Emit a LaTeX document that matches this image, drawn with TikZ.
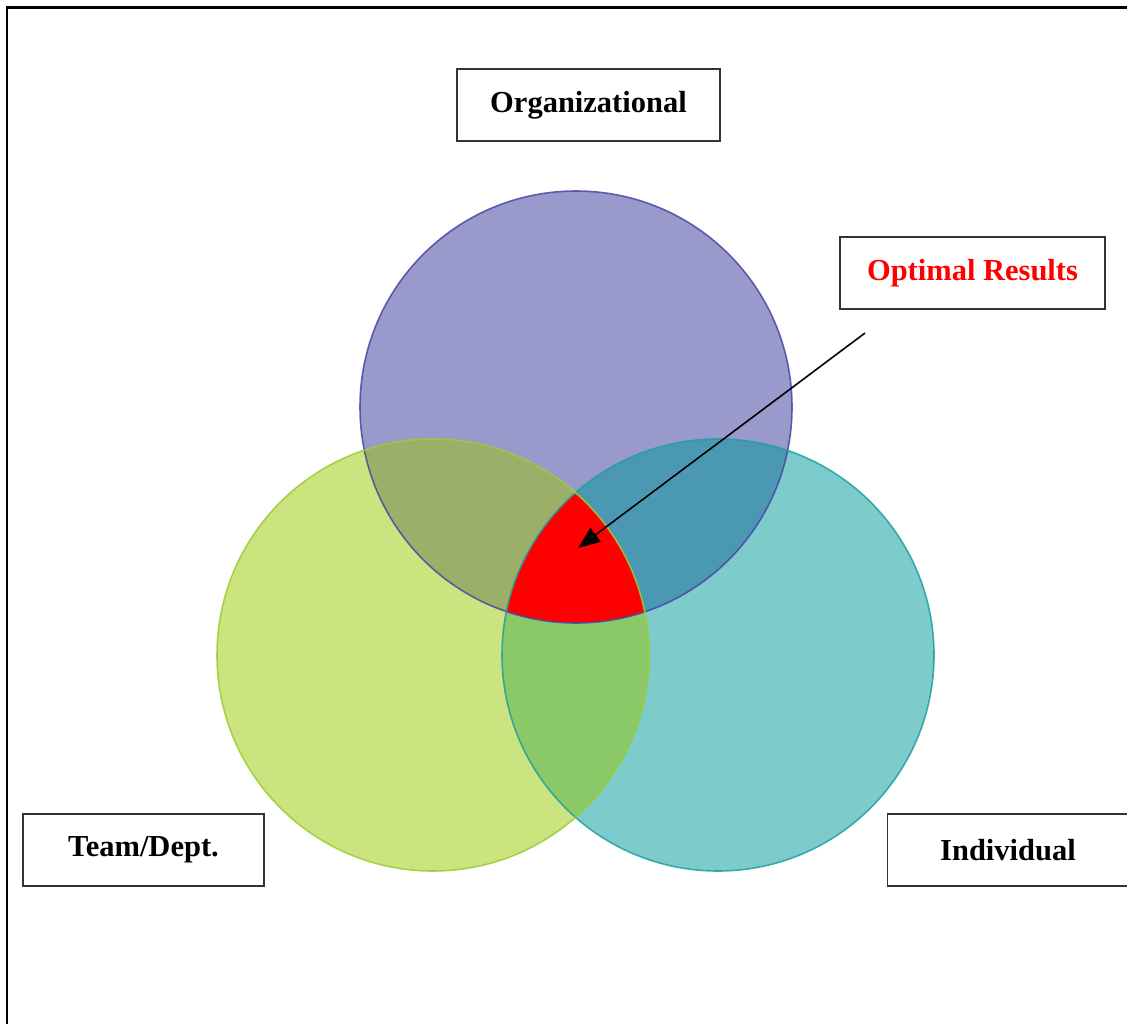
\documentclass[tikz,border=0pt]{standalone}
\usepackage{fontspec}
\setmainfont{Liberation Serif}
\usetikzlibrary{arrows.meta}
\definecolor{orgfill}{HTML}{9999CC}
\definecolor{teamfill}{HTML}{CCE480}
\definecolor{indfill}{HTML}{7ECBCC}
\definecolor{ogfill}{HTML}{9BAF69}
\definecolor{oifill}{HTML}{4B98B2}
\definecolor{tifill}{HTML}{8AC868}
\definecolor{orgline}{HTML}{4848A4}
\definecolor{teamline}{HTML}{9ACD32}
\definecolor{indline}{HTML}{20A0A0}
\definecolor{boxline}{HTML}{333333}
\begin{document}
\begin{tikzpicture}[x=1pt,y=-1pt,
  lbl/.style={draw=boxline, line width=1.6pt, fill=white, inner sep=0pt,
    minimum height=72pt, font=\fontsize{30.5}{36}\selectfont\bfseries},
  ring/.style={line width=1.6pt, opacity=0.85}]
\clip (0,0) rectangle (1127,1023);
\fill[white] (0,0) rectangle (1127,1023);
% outer frame
\draw[line width=2.8pt] (7,1040) -- (7,7.7) -- (1140,7.7);
% circle centres
\coordinate (O) at (576,407);
\coordinate (T) at (433,655);
\coordinate (I) at (718,655);
% single regions
\fill[orgfill] (O) circle [radius=216pt];
\fill[teamfill] (T) circle [radius=216pt];
\fill[indfill] (I) circle [radius=216pt];
% pairwise overlaps
\begin{scope}
  \clip (O) circle [radius=216pt];
  \fill[ogfill] (T) circle [radius=216pt];
  \fill[oifill] (I) circle [radius=216pt];
\end{scope}
\begin{scope}
  \clip (T) circle [radius=216pt];
  \fill[tifill] (I) circle [radius=216pt];
  \clip (I) circle [radius=216pt];
  \fill[red] (O) circle [radius=216pt];
\end{scope}
% outlines
\draw[ring, draw=orgline] (O) circle [radius=216pt];
\draw[ring, draw=indline] (I) circle [radius=216pt];
\draw[ring, draw=teamline] (T) circle [radius=216pt];
% labels
\node[lbl, minimum width=263pt] (org) at (588.5,105) {Organizational};
\node[lbl, minimum width=265pt, text=red] (opt) at (972.5,273) {Optimal Results};
\node[lbl, minimum width=241pt] (team) at (143.5,850) {Team/Dept.};
\node[lbl, minimum width=241pt] (ind) at (1008,850) {Individual};
% arrow
\coordinate (arrS) at (865,333);
\coordinate (arrE) at (578,548);
\draw[line width=1.6pt, -{Triangle[length=22pt,width=17pt]}] (arrS) -- (arrE);
\end{tikzpicture}
\end{document}
